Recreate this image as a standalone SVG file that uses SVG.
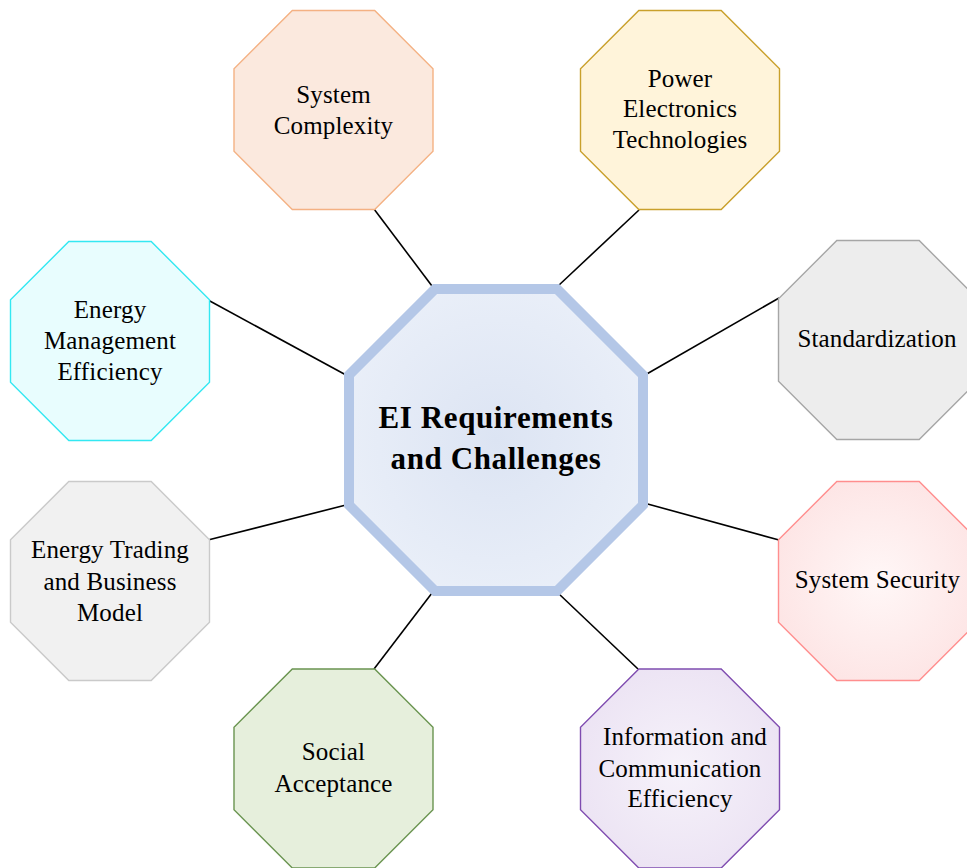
<svg xmlns="http://www.w3.org/2000/svg" width="967" height="868" viewBox="0 0 967 868">
<defs>
<style>
.oct{stroke-width:1.4}
.t{font-family:"Liberation Serif","Times New Roman",serif;font-size:25px;letter-spacing:0.15px;fill:#000;text-anchor:middle}
.tb{font-family:"Liberation Serif","Times New Roman",serif;font-size:31px;font-weight:bold;letter-spacing:0.6px;fill:#000;text-anchor:middle}
.c{stroke:#000;stroke-width:1.6;fill:none}
</style>
<polygon id="oct" points="-41.2,-99.5 41.2,-99.5 99.5,-41.2 99.5,41.2 41.2,99.5 -41.2,99.5 -99.5,41.2 -99.5,-41.2"/>
<radialGradient id="gC" cx="0.5" cy="0.5" r="0.6">
<stop offset="0" stop-color="#dce4f3"/><stop offset="1" stop-color="#ebf0f9"/>
</radialGradient>
<radialGradient id="gSS" cx="0.5" cy="0.5" r="0.6">
<stop offset="0" stop-color="#fff7f7"/><stop offset="1" stop-color="#fde3e3"/>
</radialGradient>
<radialGradient id="gIC" cx="0.5" cy="0.5" r="0.6">
<stop offset="0" stop-color="#f6f2fa"/><stop offset="1" stop-color="#ebe2f3"/>
</radialGradient>
</defs>
<rect width="967" height="868" fill="#fff"/>
<g id="connectors">
<line class="c" x1="374" y1="209" x2="432" y2="286"/>
<line class="c" x1="639" y1="210" x2="558" y2="286"/>
<line class="c" x1="208" y1="300" x2="346" y2="375"/>
<line class="c" x1="779" y1="298" x2="645" y2="375"/>
<line class="c" x1="208" y1="540" x2="346" y2="505"/>
<line class="c" x1="779" y1="540" x2="644" y2="503"/>
<line class="c" x1="374" y1="669" x2="432" y2="593"/>
<line class="c" x1="638" y1="669" x2="558" y2="593"/>
</g>
<g id="center">
<polygon points="435,289 557,289 643,375 643,505 557,591 435,591 349,505 349,375" fill="url(#gC)" stroke="#b4c7e7" stroke-width="10" stroke-linejoin="miter"/>
<text class="tb" x="496" y="428">EI Requirements</text>
<text class="tb" x="496" y="469">and Challenges</text>
</g>
<g id="system-complexity">
<use href="#oct" class="oct" transform="translate(333.5,110)" fill="#fbe9de" stroke="#f4b183"/>
<text class="t" x="333.5" y="103">System</text>
<text class="t" x="333.5" y="134">Complexity</text>
</g>
<g id="power-electronics">
<use href="#oct" class="oct" transform="translate(680,110)" fill="#fff4da" stroke="#c9a02c"/>
<text class="t" x="680" y="87">Power</text>
<text class="t" x="680" y="117">Electronics</text>
<text class="t" x="680" y="148">Technologies</text>
</g>
<g id="energy-management">
<use href="#oct" class="oct" transform="translate(110,341)" fill="#e8fdfe" stroke="#33e8f2"/>
<text class="t" x="110" y="318">Energy</text>
<text class="t" x="110" y="349">Management</text>
<text class="t" x="110" y="380">Efficiency</text>
</g>
<g id="standardization">
<use href="#oct" class="oct" transform="translate(878,340)" fill="#ededed" stroke="#a6a6a6"/>
<text class="t" x="877" y="347">Standardization</text>
</g>
<g id="energy-trading">
<use href="#oct" class="oct" transform="translate(110,581)" fill="#f1f1f1" stroke="#cacaca"/>
<text class="t" x="110" y="558">Energy Trading</text>
<text class="t" x="110" y="590">and Business</text>
<text class="t" x="110" y="621">Model</text>
</g>
<g id="system-security">
<use href="#oct" class="oct" transform="translate(878,581)" fill="url(#gSS)" stroke="#ff8e8e"/>
<text class="t" x="877.5" y="588">System Security</text>
</g>
<g id="social-acceptance">
<use href="#oct" class="oct" transform="translate(333.5,768.5)" fill="#e6efdc" stroke="#6a9450"/>
<text class="t" x="333.5" y="760">Social</text>
<text class="t" x="333.5" y="792">Acceptance</text>
</g>
<g id="information-communication">
<use href="#oct" class="oct" transform="translate(680,768.5)" fill="url(#gIC)" stroke="#7f4cb0"/>
<text class="t" x="685" y="745">Information and</text>
<text class="t" x="680" y="777">Communication</text>
<text class="t" x="680" y="807">Efficiency</text>
</g>
</svg>
